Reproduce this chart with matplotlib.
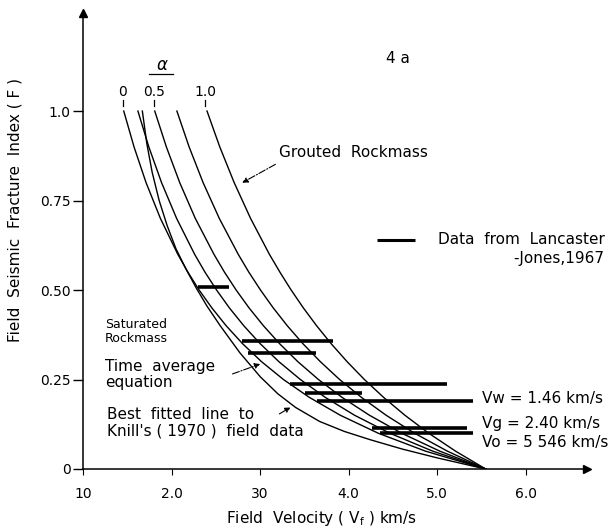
import numpy as np
import matplotlib
matplotlib.use("Agg")
import matplotlib.pyplot as plt

# values: velocity (km/s) at fixed F levels for each alpha curve
F_levels = [1.0, 0.9, 0.8, 0.7, 0.6, 0.55, 0.5, 0.45, 0.4, 0.35, 0.3, 0.25, 0.2, 0.15, 0.1, 0.05, 0.0]
v_a000 = [1.460, 1.576, 1.712, 1.874, 2.070, 2.184, 2.311, 2.455, 2.617, 2.802, 3.015, 3.263, 3.556, 3.906, 4.333, 4.865, 5.546]
v_a025 = [1.620, 1.743, 1.887, 2.057, 2.260, 2.377, 2.508, 2.653, 2.816, 3.001, 3.211, 3.454, 3.736, 4.067, 4.464, 4.947, 5.546]
v_a050 = [1.810, 1.941, 2.092, 2.268, 2.478, 2.597, 2.729, 2.875, 3.038, 3.220, 3.425, 3.658, 3.925, 4.235, 4.597, 5.027, 5.546]
v_a075 = [2.060, 2.198, 2.356, 2.539, 2.752, 2.872, 3.004, 3.148, 3.307, 3.483, 3.679, 3.897, 4.144, 4.423, 4.743, 5.113, 5.546]
v_a100 = [2.400, 2.544, 2.707, 2.892, 3.104, 3.223, 3.350, 3.488, 3.638, 3.802, 3.981, 4.177, 4.394, 4.635, 4.903, 5.205, 5.546]

# best fitted line to Knill's (1970) field data
knill_v = [1.67, 1.72, 1.78, 1.86, 1.95, 2.05, 2.16, 2.28, 2.40, 2.55, 2.77, 3.00, 3.20, 3.40, 3.67, 3.95, 4.24, 4.60, 5.00, 5.30, 5.546]
knill_F = [1.00, 0.91, 0.83, 0.75, 0.68, 0.615, 0.56, 0.505, 0.455, 0.40, 0.325, 0.258, 0.21, 0.172, 0.133, 0.105, 0.082, 0.056, 0.031, 0.014, 0.0]

# Lancaster-Jones (1967) data bars: F, v start, v end
bar_F = [0.508, 0.358, 0.324, 0.237, 0.212, 0.19, 0.115, 0.100]
bar_v0 = [2.30, 2.79, 2.86, 3.34, 3.51, 3.64, 4.26, 4.35]
bar_v1 = [2.65, 3.82, 3.63, 5.11, 4.15, 5.40, 5.33, 5.40]

xtick_vals = [1, 2, 3, 4, 5, 6]
xtick_labels = ["10", "2.0", "30", "4.0", "5.0", "6.0"]
ytick_vals = [0, 0.25, 0.5, 0.75, 1.0]
ytick_labels = ["0", "0.25", "0.50", "0.75", "1.0"]

plt.rcParams['font.family'] = ['DejaVu Sans']

fig = plt.figure(figsize=(6.13, 5.30), dpi=100)
ax = fig.add_axes([83 / 613, 61 / 530, 504 / 613, 456 / 530])

for v in [v_a000, v_a025, v_a050, v_a075, v_a100]:
    ax.plot(v, F_levels, color='k', lw=1.0)
ax.plot(knill_v, knill_F, color='k', lw=1.0)

for f, a, b in zip(bar_F, bar_v0, bar_v1):
    ax.plot([a, b], [f, f], color='k', lw=2.6, solid_capstyle='butt')

ax.set_xlim(1.0, 6.69)
ax.set_ylim(0, 1.274)
for s in ['top', 'right']:
    ax.spines[s].set_visible(False)
for s in ['left', 'bottom']:
    ax.spines[s].set_linewidth(1.1)
ax.plot(1, 0, '>k', ms=6, transform=ax.transAxes, clip_on=False)
ax.plot(0, 1, '^k', ms=6, transform=ax.transAxes, clip_on=False)

ax.set_xticks(xtick_vals)
ax.set_xticklabels(xtick_labels, fontsize=10)
ax.set_yticks(ytick_vals)
ax.set_yticklabels(ytick_labels, fontsize=10)
ax.tick_params(axis='x', length=4, width=0.8, pad=9)
ax.tick_params(axis='y', length=7, width=1.0, pad=2)

# alpha labels above curves
ax.text(1.892, 1.128, r"$\alpha$", fontsize=12, ha='center', va='center')
ax.plot([1.745, 2.016], [1.103, 1.103], color='k', lw=0.9, clip_on=False)
for v, lab in zip([1.45, 1.80, 2.38], ["0", "0.5", "1.0"]):
    ax.text(v, 1.053, lab, fontsize=10, ha='center', va='center')
    ax.plot([v, v], [1.014, 1.030], color='k', lw=0.9)

ax.text(4.555, 1.148, "4 a", fontsize=11, ha='center', va='center')

ax.text(3.21, 0.885, "Grouted  Rockmass", fontsize=11, ha='left', va='center')
ax.annotate("", xy=(2.77, 0.796), xytext=(3.20, 0.855),
            arrowprops=dict(arrowstyle='-|>', lw=0.8, color='k', linestyle='-.', mutation_scale=8))

ax.plot([4.318, 4.747], [0.64, 0.64], color='k', lw=2.2, solid_capstyle='butt')
ax.text(5.007, 0.64, "Data  from  Lancaster", fontsize=11, ha='left', va='center', clip_on=False)
ax.text(6.89, 0.589, "-Jones,1967", fontsize=11, ha='right', va='center', clip_on=False)

ax.text(1.248, 0.383, "Saturated\nRockmass", fontsize=9, ha='left', va='center', linespacing=1.1)
ax.text(1.248, 0.264, "Time  average\nequation", fontsize=11, ha='left', va='center', linespacing=1.1)
ax.annotate("", xy=(3.03, 0.296), xytext=(2.659, 0.263),
            arrowprops=dict(arrowstyle='-|>', lw=0.8, color='k', linestyle='-.', mutation_scale=8))
ax.text(1.27, 0.13, "Best  fitted  line  to\nKnill's ( 1970 )  field  data", fontsize=11,
        ha='left', va='center', linespacing=1.15)
ax.annotate("", xy=(3.37, 0.176), xytext=(3.19, 0.15),
            arrowprops=dict(arrowstyle='-|>', lw=0.8, color='k', linestyle='-.', mutation_scale=8))

ax.text(5.503, 0.198, "Vw = 1.46 km/s", fontsize=11, ha='left', va='center', clip_on=False)
ax.text(5.503, 0.128, "Vg = 2.40 km/s", fontsize=11, ha='left', va='center', clip_on=False)
ax.text(5.503, 0.073, "Vo = 5 546 km/s", fontsize=11, ha='left', va='center', clip_on=False)

fig.text(15 / 613, 1 - 210 / 530, "Field  Seismic  Fracture  Index ( F )", fontsize=11,
         rotation=90, ha='center', va='center')
fig.text(322 / 613, 1 - 518 / 530, r"Field  Velocity ( V$_{\rm f}$ ) km/s", fontsize=11,
         ha='center', va='center')

fig.savefig("out.png", dpi=100)
